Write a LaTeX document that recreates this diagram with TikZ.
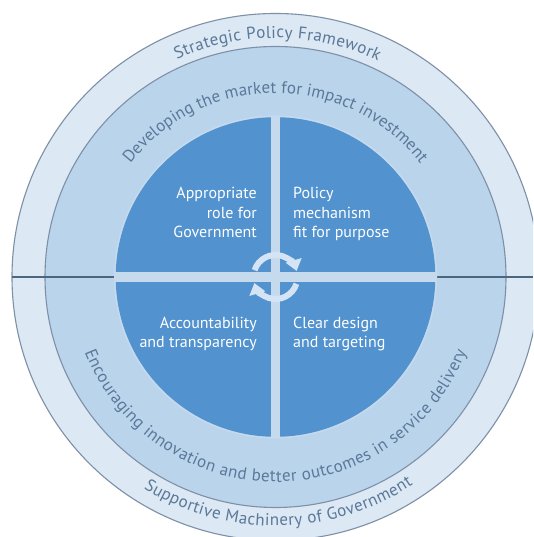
\documentclass[tikz,border=0pt]{standalone}
\usepackage{fontspec}
\setmainfont{PT Sans}
\usetikzlibrary{decorations.text,arrows.meta,calc}
\definecolor{outerfill}{HTML}{DCE8F4}
\definecolor{midfill}{HTML}{BAD4EC}
\definecolor{diskfill}{HTML}{5192CF}
\definecolor{crossfill}{HTML}{C6DAEE}
\definecolor{ringline}{HTML}{7D90A6}
\definecolor{hlinecol}{HTML}{4E6580}
\definecolor{ringtext}{HTML}{5A7899}
\definecolor{arrowcol}{HTML}{D4E4F4}
\newcommand\ringfont{\fontsize{17}{20}\selectfont}
\newcommand\quadfont{\fontsize{16}{19}\selectfont}
\tikzset{
  ringedge/.style={draw=ringline, line width=1.1pt},
  quadtext/.style={text=white, font=\quadfont, inner sep=0pt},
  cyclearrow/.style={draw=arrowcol, line width=6pt, -{Triangle[width=16pt,length=11pt]}},
  ringlabel/.style={decorate, decoration={text along path, text align={fit to path}, text={#1}}}
}
\begin{document}
\begin{tikzpicture}[x=1pt,y=1pt]
\useasboundingbox (0,0) rectangle (533,537);
\clip (0,0) rectangle (533,537);
\fill[white] (0,0) rectangle (533,537);
\coordinate (C) at (275.5,260);
% rings
\draw[ringedge, fill=outerfill] (C) circle[radius=263.5];
\draw[ringedge, fill=midfill] (C) circle[radius=230.5];
\draw[draw=hlinecol, line width=1.2pt] (12,260) -- (533,260);
% disk
\fill[crossfill] (C) circle[radius=161.5];
\fill[diskfill] (C) circle[radius=159.8];
\begin{scope}
\clip (C) circle[radius=161.5];
\fill[crossfill] ($(C)+(-4.2,-170)$) rectangle ($(C)+(4.2,170)$);
\fill[crossfill] ($(C)+(-170,-5)$) rectangle ($(C)+(170,5)$);
\end{scope}
% cycle arrows
\draw[cyclearrow] ($(C)+(162:22)$) arc[start angle=162, end angle=16, radius=22];
\draw[cyclearrow] ($(C)+(-18:22)$) arc[start angle=-18, end angle=-164, radius=22];
% quadrant texts
\node[quadtext, anchor=base east] (tl1) at (257,338) {Appropriate};
\node[quadtext, anchor=base east] (tl2) at (257,318.5) {role for};
\node[quadtext, anchor=base east] (tl3) at (257,299) {Government};
\node[quadtext, anchor=base west] (tr1) at (293,338) {Policy};
\node[quadtext, anchor=base west] (tr2) at (293,318.5) {mechanism};
\node[quadtext, anchor=base west] (tr3) at (293,299) {fit for purpose};
\node[quadtext, anchor=base east] (bl1) at (257,208) {Accountability};
\node[quadtext, anchor=base east] (bl2) at (257,189.5) {and transparency};
\node[quadtext, anchor=base west] (br1) at (293,208) {Clear design};
\node[quadtext, anchor=base west] (br2) at (293,189.5) {and targeting};
% ring texts
\path[ringlabel={|\color{ringtext}\ringfont|Strategic Policy Framework}]
  ($(C)+(114.4:239)$) arc[start angle=114.4, end angle=64.6, radius=239];
\path[ringlabel={|\color{ringtext}\ringfont|Developing the market for impact investment}]
  ($(C)+(142:184)$) arc[start angle=142, end angle=38, radius=184];
\path[ringlabel={|\color{ringtext}\ringfont|Encouraging innovation and better outcomes in service delivery}]
  ($(C)+(201.5:205)$) arc[start angle=201.5, end angle=338.5, radius=205];
\path[ringlabel={|\color{ringtext}\ringfont|Supportive Machinery of Government}]
  ($(C)+(238:249)$) arc[start angle=238, end angle=303.5, radius=249];
\end{tikzpicture}
\end{document}
